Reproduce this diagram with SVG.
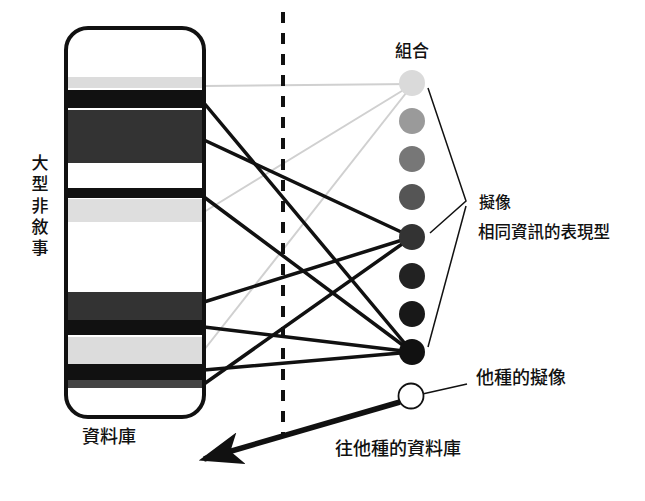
<svg xmlns="http://www.w3.org/2000/svg" width="645" height="501" viewBox="0 0 645 501">
<defs>
<style>
.t{font-family:"Noto Sans CJK TC","Noto Sans CJK SC",sans-serif;fill:#111;font-weight:500;}
.blk{stroke:#111;stroke-width:3.5;fill:none;stroke-linecap:round;}
.lt{stroke:#d0d0d0;stroke-width:2;fill:none;}
.thin{stroke:#111;stroke-width:1.5;fill:none;}
</style>
<clipPath id="boxclip"><rect x="66" y="28" width="138" height="389" rx="22"/></clipPath>
<marker id="ah" markerWidth="8" markerHeight="6" refX="7" refY="3" orient="auto" markerUnits="strokeWidth"><path d="M0,0 L8,3 L0,6 L2,3 Z" fill="#111"/></marker>
</defs>
<rect width="645" height="501" fill="#fff"/>
<g id="connectors">
<line class="lt" x1="204" y1="86" x2="412" y2="84"/>
<line class="lt" x1="204" y1="212" x2="410" y2="86"/>
<line class="lt" x1="204" y1="350" x2="410" y2="88"/>
<line class="blk" x1="204" y1="103" x2="412" y2="352"/>
<line class="blk" x1="204" y1="140" x2="412" y2="237"/>
<line class="blk" x1="204" y1="197" x2="412" y2="352"/>
<line class="blk" x1="204" y1="302" x2="412" y2="237"/>
<line class="blk" x1="204" y1="327" x2="412" y2="352"/>
<line class="blk" x1="204" y1="370" x2="412" y2="352"/>
<line class="blk" x1="204" y1="384" x2="412" y2="237"/>
<line x1="283" y1="12" x2="283" y2="434" stroke="#111" stroke-width="4" stroke-dasharray="11 10"/>
<polyline class="thin" points="428,88 466,201 430,233"/>
<polyline class="thin" points="466,206 428,347"/>
<line class="thin" x1="418" y1="395" x2="467" y2="384"/>
<line x1="400" y1="402" x2="204" y2="459" stroke="#111" stroke-width="5.5" marker-end="url(#ah)"/>
</g>
<g id="database">
<rect x="66" y="28" width="138" height="389" rx="22" fill="#fff"/>
<g clip-path="url(#boxclip)">
<rect x="66" y="77" width="138" height="11" fill="#dcdcdc"/>
<rect x="66" y="90" width="138" height="18" fill="#111"/>
<rect x="66" y="110" width="138" height="53" fill="#333"/>
<rect x="66" y="188" width="138" height="10" fill="#111"/>
<rect x="66" y="199" width="138" height="23" fill="#dedede"/>
<rect x="66" y="292" width="138" height="28" fill="#333"/>
<rect x="66" y="320" width="138" height="15" fill="#111"/>
<rect x="66" y="337" width="138" height="27" fill="#dcdcdc"/>
<rect x="66" y="364" width="138" height="16" fill="#111"/>
<rect x="66" y="380" width="138" height="8" fill="#444"/>
</g>
<rect x="66" y="28" width="138" height="389" rx="22" fill="none" stroke="#111" stroke-width="4"/>
<text class="t" x="109" y="443" font-size="18" text-anchor="middle">資料庫</text>
</g>
<g id="label-narrative">
<text class="t" x="40" y="154" font-size="17" writing-mode="tb" letter-spacing="4.3">大型非敘事</text>
</g>
<g id="combinations">
<text class="t" x="412" y="57" font-size="17" text-anchor="middle">組合</text>
<circle cx="412" cy="83" r="13" fill="#dadada"/>
<circle cx="412" cy="121" r="13" fill="#9a9a9a"/>
<circle cx="412" cy="159" r="13" fill="#777"/>
<circle cx="412" cy="197" r="13" fill="#555"/>
<circle cx="412" cy="237" r="13" fill="#333"/>
<circle cx="412" cy="276" r="13" fill="#222"/>
<circle cx="412" cy="314" r="13" fill="#181818"/>
<circle cx="412" cy="352" r="13" fill="#111"/>
</g>
<g id="other-simulation">
<circle cx="411" cy="396" r="12.5" fill="#fff" stroke="#111" stroke-width="1.8"/>
<text class="t" x="476" y="384" font-size="18">他種的擬像</text>
</g>
<g id="simulation-label">
<text class="t" x="479" y="208" font-size="16">擬像</text>
<text class="t" x="478" y="238" font-size="16.5">相同資訊的表現型</text>
</g>
<g id="other-db-label">
<text class="t" x="335" y="455" font-size="18">往他種的資料庫</text>
</g>
</svg>
